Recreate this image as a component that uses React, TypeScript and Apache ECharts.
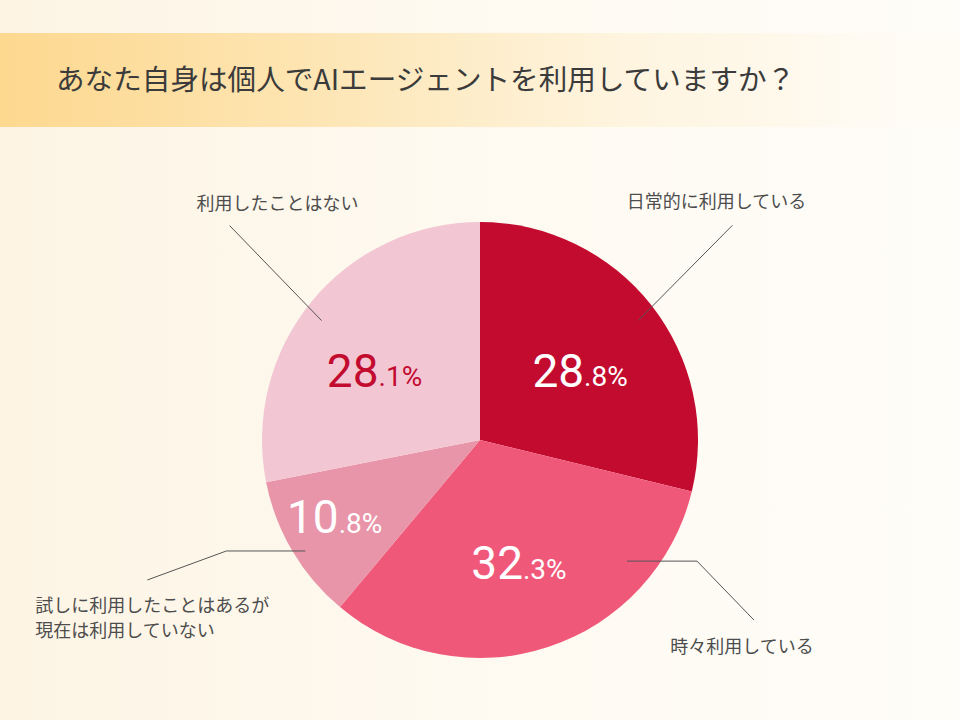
import { useEffect, useRef } from 'react';
import * as echarts from 'echarts';

const titleText = 'あなた自身は個人でAIエージェントを利用していますか？';
const categories = [
  '日常的に利用している',
  '時々利用している',
  '試しに利用したことはあるが\n現在は利用していない',
  '利用したことはない',
];
const shares = [28.8, 32.3, 10.8, 28.1];

const sliceColors = ['#c30b30', '#f0587a', '#e995a9', '#f2c7d3'];
const valueColors = ['#ffffff', '#ffffff', '#ffffff', '#c30b30'];

// 割合ラベルの位置調整（既定の内側位置からのずれ）
const valueOffsets = [
  [12, 0],
  [4, 17],
  [-49, 20],
  [-19, 2],
];

// 引き出し線とカテゴリ名（円周上の中点からの相対位置）
const leaders = [
  { line: [[-13, 15], [81, -80]], label: [65, -105], align: 'center' },
  { line: [[79, -86], [149, -86], [206, -27]], label: [194, -2], align: 'center' },
  { line: [[13, 0], [-66, 0], [-145, 29]], label: [-257, 66], align: 'left' },
  { line: [[10, 19], [-82, -76]], label: [-34, -100], align: 'center' },
];

const FONT = '"Noto Sans CJK JP", "Noto Sans", sans-serif';
const NUM_FONT = 'Roboto, "Noto Sans", sans-serif';
const CENTER = [480, 440];
const RADIUS = 218;

export default function App() {
  const chartRef = useRef<HTMLDivElement>(null);

  useEffect(() => {
    document.body.style.margin = '0';
    if (!chartRef.current) return;
    const chart = echarts.init(chartRef.current, null, { renderer: 'svg' });

    const data = categories.map((name, i) => ({
      name,
      value: shares[i],
      itemStyle: { color: sliceColors[i] },
    }));

    const option: echarts.EChartsOption = {
      animation: false,
      backgroundColor: new echarts.graphic.LinearGradient(0, 0, 1, 0, [
        { offset: 0, color: '#fdf4e4' },
        { offset: 0.5, color: '#fefaf1' },
        { offset: 1, color: '#fffdf9' },
      ]),
      textStyle: { fontFamily: FONT },
      title: {
        text: titleText,
        left: 51,
        top: 58,
        textStyle: { fontFamily: FONT, fontSize: 28.6, fontWeight: 'normal', color: '#3b3b3b' },
      },
      graphic: [
        {
          type: 'rect',
          z: -10,
          shape: { x: 0, y: 33, width: 960, height: 94 },
          style: {
            fill: new echarts.graphic.LinearGradient(0, 0, 1, 0, [
              { offset: 0, color: '#fdd88f' },
              { offset: 0.3, color: '#fde4b0' },
              { offset: 0.65, color: '#fef4df' },
              { offset: 0.95, color: '#fffcf6' },
            ]),
          },
        },
      ],
      series: [
        {
          type: 'pie',
          z: 1,
          center: CENTER,
          radius: RADIUS,
          startAngle: 90,
          clockwise: true,
          silent: true,
          avoidLabelOverlap: false,
          data,
          label: {
            show: true,
            position: 'inside',
            formatter: (p: any) => {
              const [a, b] = Number(p.value).toFixed(1).split('.');
              const k = p.dataIndex === 3 ? 'r' : 'w';
              return `{a${k}|${a}}{b${k}|.${b}%}`;
            },
            rich: {
              aw: { fontFamily: NUM_FONT, fontSize: 46, color: valueColors[0] },
              bw: { fontFamily: NUM_FONT, fontSize: 28, color: valueColors[0], padding: [12, 0, 0, 0] },
              ar: { fontFamily: NUM_FONT, fontSize: 46, color: valueColors[3] },
              br: { fontFamily: NUM_FONT, fontSize: 28, color: valueColors[3], padding: [12, 0, 0, 0] },
            },
          },
          labelLine: { show: false },
          labelLayout: (p: any) => {
            const r = p.labelRect;
            const [dx, dy] = valueOffsets[p.dataIndex];
            return {
              x: r.x + r.width / 2 + dx,
              y: r.y + r.height / 2 + dy,
              align: 'center',
              verticalAlign: 'middle',
            };
          },
        },
        {
          type: 'pie',
          z: 5,
          center: CENTER,
          radius: RADIUS,
          startAngle: 90,
          clockwise: true,
          silent: true,
          avoidLabelOverlap: false,
          data: data.map((d) => ({ ...d, itemStyle: { color: 'rgba(0,0,0,0)' } })),
          label: {
            show: true,
            position: 'outside',
            formatter: '{b}',
            fontFamily: FONT,
            fontSize: 18,
            lineHeight: 25,
            color: '#4d4d4d',
          },
          labelLine: {
            show: true,
            length: 20,
            length2: 20,
            lineStyle: { color: '#555555', width: 1 },
          },
          labelLayout: (p: any) => {
            const pts = p.labelLinePoints;
            const o = pts && pts[0] ? pts[0] : [CENTER[0], CENTER[1]];
            const cfg = leaders[p.dataIndex];
            return {
              x: o[0] + cfg.label[0],
              y: o[1] + cfg.label[1],
              align: cfg.align,
              verticalAlign: 'middle',
              labelLinePoints: cfg.line.map(([x, y]) => [o[0] + x, o[1] + y]),
            };
          },
        },
      ],
    };

    chart.setOption(option);

    return () => {
      chart.dispose();
    };
  }, []);

  return <div ref={chartRef} style={{ width: '960px', height: '720px' }} />;
}
